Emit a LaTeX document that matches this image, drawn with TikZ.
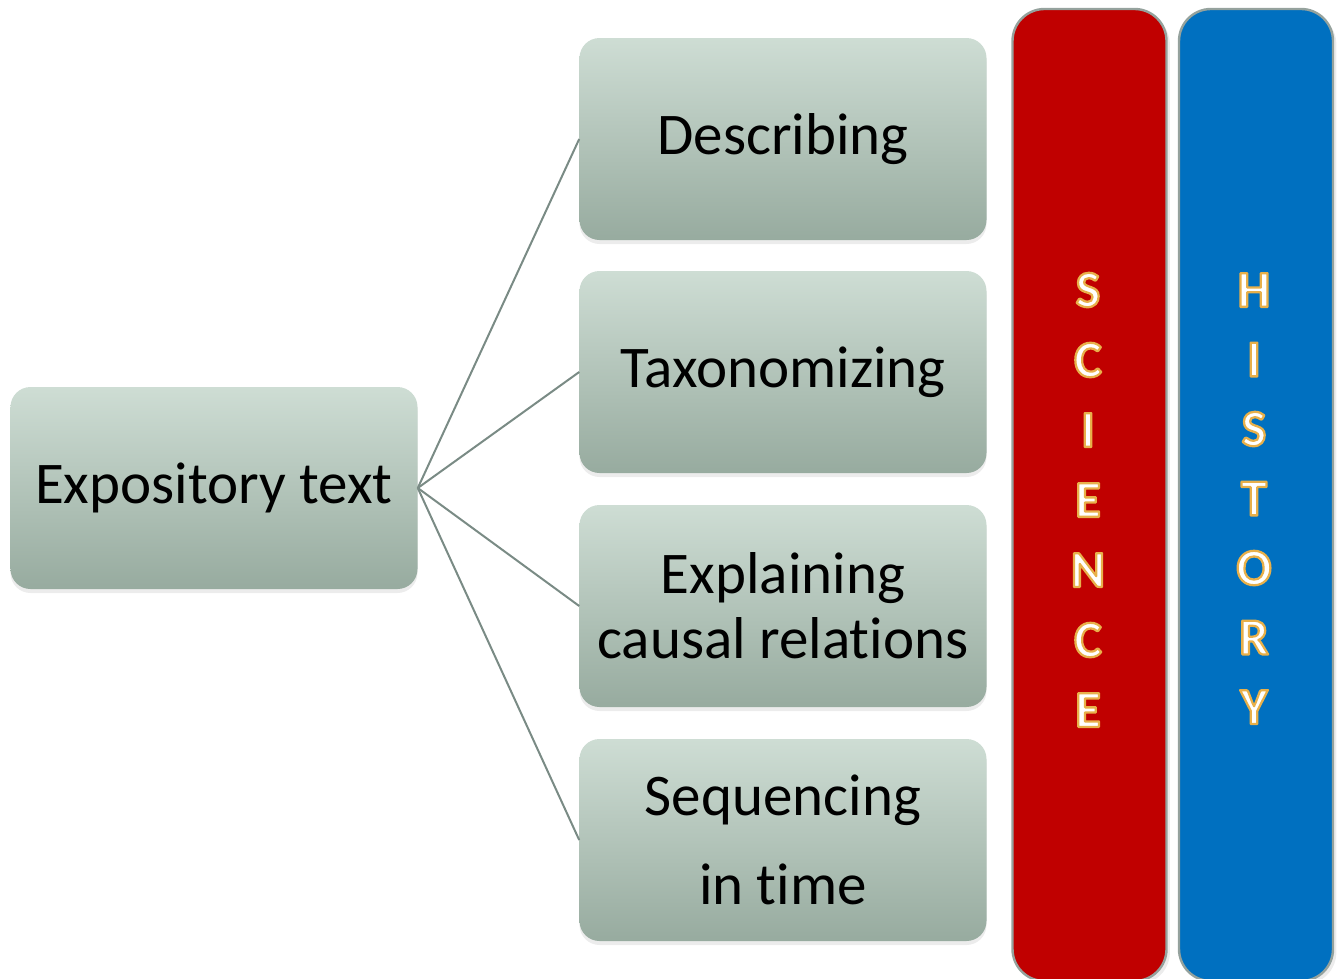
\documentclass[tikz,border=0pt]{standalone}
\usepackage{fontspec}
\setmainfont{Carlito}[Ligatures=NoCommon]
\usepackage{xcolor}
\usetikzlibrary{shadows}
\definecolor{boxtop}{HTML}{CEDDD4}
\definecolor{boxbot}{HTML}{97AB9F}
\definecolor{linkgray}{HTML}{7A8B85}
\definecolor{scired}{HTML}{C00000}
\definecolor{histblue}{HTML}{0070C0}
% outlined letter: white fill, gold stroke
\newcommand{\rimletter}[1]{{\color{white}\special{pdf:literal direct 0.91 0.69 0.29 RG 1.6 w 1 j 2 Tr}#1\special{pdf:literal direct 0 Tr}}}

\begin{document}
\begin{tikzpicture}[x=0.25mm, y=-0.25mm,
    box/.style={rounded corners=5mm, top color=boxtop, bottom color=boxbot,
      minimum width=101.75mm, minimum height=50.5mm, align=center,
      font=\fontsize{42}{46}\selectfont,
      drop shadow={opacity=0.15, shadow xshift=0pt, shadow yshift=-1mm}},
    column/.style={rounded corners=8mm, draw=linkgray!80, line width=0.6mm,
      minimum width=38.5mm, minimum height=243mm},
    letter/.style={font=\fontsize{37}{40}\selectfont\bfseries}]
	    \useasboundingbox (0,0) rectangle (1342,978);
	    \node[box] (expo) at (214,488) {Expository text};
	    \node[box] (desc) at (783,139) {Describing};
	    \node[box] (taxo) at (783,372) {Taxonomizing};
	    \node[box] (expl) at (783,606) {Explaining\\causal relations};
	    \node[box, font=\fontsize{42}{63}\selectfont] (sequ) at (783,840) {Sequencing\\in time};
	    \draw[linkgray, line width=0.5mm] (expo.east) -- (desc.west);
	    \draw[linkgray, line width=0.5mm] (expo.east) -- (taxo.west);
	    \draw[linkgray, line width=0.5mm] (expo.east) -- (expl.west);
	    \draw[linkgray, line width=0.5mm] (expo.east) -- (sequ.west);
	    \node[column, fill=scired, drop shadow={opacity=0.15}] (sci) at (1089.5,495) {};
	    \node[column, fill=histblue, drop shadow={opacity=0.15}] (hist) at (1256,495) {};
	    \foreach \c [count=\i from 0] in {S,C,I,E,N,C,E} {
	      \node[letter] (sci\i) at (1088,290+70*\i) {\rimletter{\c}};
	    }
	    \foreach \c [count=\i from 0] in {H,I,S,T,O,R,Y} {
	      \node[letter] (hist\i) at (1254,290+69.5*\i) {\rimletter{\c}};
	    }
	  \end{tikzpicture}
\end{document}
